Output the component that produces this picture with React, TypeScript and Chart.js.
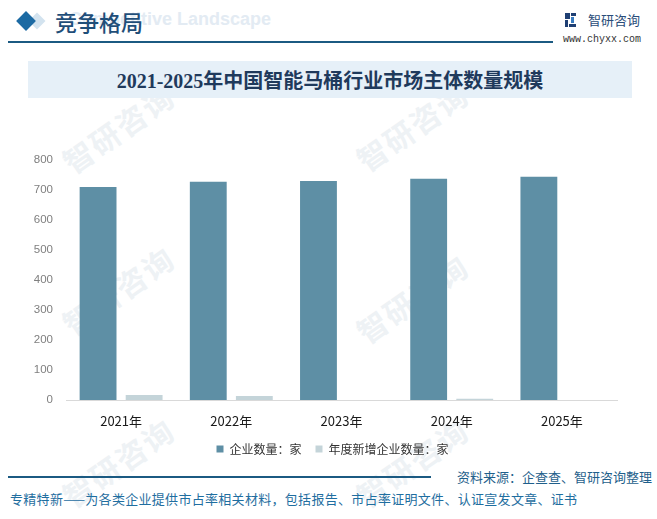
import React, { useEffect, useRef } from "react";
import { Chart, registerables } from "chart.js";

Chart.register(...registerables);

const categories = ["2021年", "2022年", "2023年", "2024年", "2025年"];
const enterpriseCount = [710, 727, 730, 737, 744];
const newEnterpriseCount = [17, 13, 0, 4, 0];
const seriesNames = ["企业数量：家", "年度新增企业数量：家"];
const yMin = 0;
const yMax = 800;
const yStep = 100;

const titleText = "2021-2025年中国智能马桶行业市场主体数量规模";
const sectionTitle = "竞争格局";
const sectionWatermark = "Competitive Landscape";
const brandName = "智研咨询";
const brandUrl = "www.chyxx.com";
const sourceText = "资料来源：企查查、智研咨询整理";
const footerText = "专精特新——为各类企业提供市占率相关材料，包括报告、市占率证明文件、认证宣发文章、证书";
const watermarkSpots = [
  [118, 128],
  [412, 126],
  [118, 290],
  [412, 298],
  [118, 462],
  [412, 462],
];

const CJK = '"Noto Sans CJK SC", "Noto Sans", sans-serif';

const legendShift = {
  id: "legendShift",
  afterLayout(chart: any) {
    const l = chart.legend;
    if (l) {
      l.left += 9;
      l.right += 9;
    }
  },
};

function BarChart() {
  const ref = useRef<HTMLCanvasElement | null>(null);
  useEffect(() => {
    if (!ref.current) return;
    const chart = new Chart(ref.current, {
      type: "bar",
      data: {
        labels: categories,
        datasets: [
          {
            label: seriesNames[0],
            data: enterpriseCount,
            backgroundColor: "#5e8fa5",
            borderWidth: 0,
            categoryPercentage: 0.836,
            barPercentage: 0.8,
          },
          {
            label: seriesNames[1],
            data: newEnterpriseCount,
            backgroundColor: "#c4d4d9",
            borderWidth: 0,
            categoryPercentage: 0.836,
            barPercentage: 0.8,
          },
        ],
      },
      plugins: [legendShift],
      options: {
        animation: false,
        responsive: true,
        maintainAspectRatio: false,
        layout: { padding: { left: 30, right: 40, top: 19, bottom: 0 } },
        plugins: {
          tooltip: { enabled: false },
          legend: {
            position: "bottom",
            labels: {
              boxWidth: 7,
              boxHeight: 7,
              padding: 14,
              color: "#333333",
              font: { size: 12, family: CJK },
            },
          },
        },
        scales: {
          x: {
            grid: { display: false, drawTicks: false },
            border: { display: true, color: "#d9d9d9", width: 1 },
            ticks: {
              color: "#1a1a1a",
              padding: 13,
              font: { size: 13, family: CJK },
            },
            afterFit: (scale: any) => {
              scale.height = 29;
            },
          },
          y: {
            min: yMin,
            max: yMax,
            grid: { display: false, drawTicks: false },
            border: { display: false },
            ticks: {
              stepSize: yStep,
              color: "#7f7f7f",
              padding: 13,
              font: { size: 11.5, family: '"Liberation Sans", Arial, sans-serif' },
            },
            afterFit: (scale: any) => {
              scale.width = 36;
            },
          },
        },
      },
    });
    return () => chart.destroy();
  }, []);
  return <canvas ref={ref} />;
}

function Diamond({ x, y, size, color }: { x: number; y: number; size: number; color: string }) {
  return (
    <div
      style={{
        position: "absolute",
        left: x - size / 2,
        top: y - size / 2,
        width: size,
        height: size,
        background: color,
        transform: "rotate(45deg)",
      }}
    />
  );
}

function Watermark({ x, y }: { x: number; y: number }) {
  return (
    <div
      style={{
        position: "absolute",
        left: x - 80,
        top: y - 20,
        width: 160,
        height: 40,
        display: "flex",
        alignItems: "center",
        justifyContent: "center",
        transform: "rotate(-35deg)",
        fontSize: 30,
        fontWeight: 700,
        color: "#eef2f5",
        whiteSpace: "nowrap",
        letterSpacing: 2,
      }}
    >
      {brandName}
    </div>
  );
}

export default function App() {
  return (
    <div
      style={{
        position: "absolute",
        left: 0,
        top: 0,
        width: 657,
        height: 519,
        background: "#ffffff",
        overflow: "hidden",
        fontFamily: CJK,
      }}
    >
      {watermarkSpots.map(([x, y], i) => (
        <Watermark key={i} x={x} y={y} />
      ))}
      {/* header */}
      <div
        style={{
          position: "absolute",
          left: 69,
          top: 9,
          fontFamily: '"Liberation Sans", Arial, sans-serif',
          fontWeight: 700,
          fontSize: 18,
          color: "#e3ebf3",
          whiteSpace: "nowrap",
        }}
      >
        {sectionWatermark}
      </div>
      <Diamond x={37} y={21} size={12} color="#d3e3ef" />
      <Diamond x={26} y={21} size={14} color="#1c6aa3" />
      <div
        style={{
          position: "absolute",
          left: 55,
          top: 7,
          fontSize: 22,
          lineHeight: "28px",
          fontWeight: 500,
          color: "#1f4e79",
          whiteSpace: "nowrap",
        }}
      >
        {sectionTitle}
      </div>
      <div style={{ position: "absolute", left: 8, top: 41, width: 545, height: 1.5, background: "#1b5a82" }} />
      {/* logo */}
      <svg style={{ position: "absolute", left: 565, top: 13 }} width={11} height={14} viewBox="0 0 11 14">
        <rect x="0" y="0" width="5" height="6" fill="#1f3f73" />
        <rect x="0" y="7" width="3" height="7" fill="#1f3f73" />
        <rect x="6" y="0" width="5" height="3" fill="#1f3f73" />
        <rect x="6" y="4" width="3" height="6" fill="#3a7cc0" />
        <rect x="4" y="11" width="7" height="3" fill="#1f3f73" />
      </svg>
      <div
        style={{
          position: "absolute",
          left: 588,
          top: 11,
          fontSize: 13,
          lineHeight: "18px",
          color: "#2a4d7a",
          whiteSpace: "nowrap",
        }}
      >
        {brandName}
      </div>
      <div
        style={{
          position: "absolute",
          left: 563,
          top: 33,
          fontSize: 10,
          lineHeight: "14px",
          fontFamily: '"Liberation Mono", monospace',
          color: "#333333",
          whiteSpace: "nowrap",
        }}
      >
        {brandUrl}
      </div>
      {/* title band */}
      <div
        style={{
          position: "absolute",
          left: 28,
          top: 61,
          width: 604,
          height: 37,
          background: "#e6f0f8",
          display: "flex",
          alignItems: "center",
          justifyContent: "center",
        }}
      >
        <span
          style={{
            fontFamily: '"Liberation Serif", "Noto Sans CJK SC", serif',
            fontWeight: 700,
            fontSize: 20,
            color: "#1f3a5c",
            whiteSpace: "nowrap",
          }}
        >
          {titleText}
        </span>
      </div>
      {/* chart */}
      <div style={{ position: "absolute", left: 0, top: 140, width: 657, height: 325 }}>
        <BarChart />
      </div>
      {/* footer */}
      <div style={{ position: "absolute", left: 8, top: 476, width: 423, height: 1.5, background: "#1b5a82" }} />
      <div
        style={{
          position: "absolute",
          right: 5,
          top: 468,
          fontSize: 13,
          lineHeight: "18px",
          color: "#1f5f8b",
          whiteSpace: "nowrap",
        }}
      >
        {sourceText}
      </div>
      <div
        style={{
          position: "absolute",
          left: 10,
          top: 490,
          fontSize: 13,
          lineHeight: "18px",
          letterSpacing: 0.3,
          color: "#1f6ea0",
          whiteSpace: "nowrap",
        }}
      >
        {footerText}
      </div>
    </div>
  );
}
